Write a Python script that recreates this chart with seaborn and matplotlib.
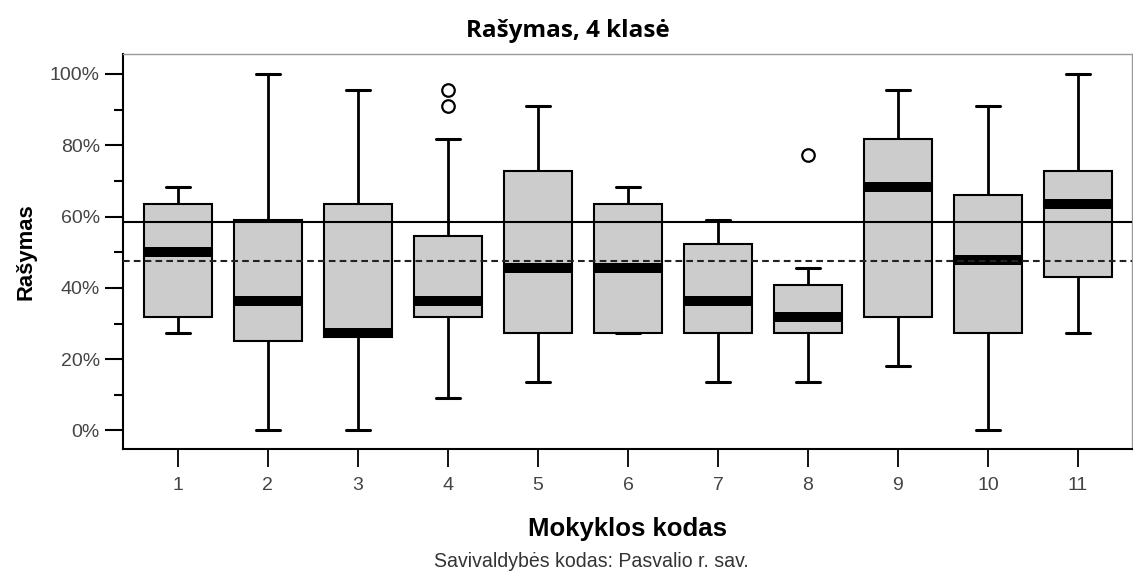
import numpy as np
import pandas as pd
import matplotlib
matplotlib.use("Agg")
import matplotlib.pyplot as plt
import seaborn as sns
from matplotlib.ticker import PercentFormatter, MultipleLocator

# ---- data (percent) ----
schools = ["1", "2", "3", "4", "5", "6", "7", "8", "9", "10", "11"]
whisker_low = [27.27, 0.0, 0.0, 9.09, 13.64, 27.27, 13.64, 13.64, 18.18, 0.0, 27.27]
q1 = [31.82, 25.0, 26.1, 31.82, 27.27, 27.27, 27.27, 27.27, 31.82, 27.27, 43.18]
median = [50.0, 36.36, 27.27, 36.36, 45.45, 45.45, 36.36, 31.82, 68.18, 47.73, 63.64]
q3 = [63.64, 59.09, 63.64, 54.55, 72.73, 63.64, 52.27, 40.91, 81.82, 65.91, 72.73]
whisker_high = [68.18, 100.0, 95.45, 81.82, 90.91, 68.18, 59.09, 45.45, 95.45, 90.91, 100.0]
outlier_school = ["4", "4", "8"]
outlier_value = [95.45, 90.91, 77.27]
solid_ref = 58.6
dashed_ref = 47.4

title = "Rašymas, 4 klasė"
xlabel = "Mokyklos kodas"
ylabel = "Rašymas"
footer = "Savivaldybės kodas: Pasvalio r. sav."

# ---- style ----
sns.set_style("white")
plt.rcParams["font.family"] = ["Liberation Sans", "DejaVu Sans"]

W, H = 1133, 571
fig = plt.figure(figsize=(W / 100, H / 100), dpi=100)
ax = fig.add_axes([123 / W, 1 - 449 / H, (1132 - 123) / W, (449 - 54) / H])

# five-number summaries as a long table (quartiles reproduce exactly with 5 points)
df = pd.DataFrame({
    "school": np.repeat(schools, 5),
    "value": np.column_stack([whisker_low, q1, median, q3, whisker_high]).ravel(),
})

sns.boxplot(
    data=df, x="school", y="value", order=schools, whis=np.inf,
    width=0.76, color="#cccccc", saturation=1, linecolor="black",
    linewidth=1.5, showfliers=False,
    medianprops=dict(linewidth=7.2, color="black", solid_capstyle="butt"),
    whiskerprops=dict(linewidth=2.0, color="black"),
    capprops=dict(linewidth=2.2, color="black"),
    ax=ax,
)
for cont in ax.containers:
    for cap in getattr(cont, "caps", []):
        xd = np.asarray(cap.get_xdata(), dtype=float)
        c = xd.mean()
        cap.set_xdata([c - 0.13, c + 0.13])

sns.stripplot(
    x=outlier_school, y=outlier_value, order=schools, jitter=False,
    color="white", edgecolor="black", linewidth=1.6, size=9, ax=ax, zorder=6,
)

ax.axhline(solid_ref, color="black", lw=1.5, zorder=7)
ax.axhline(dashed_ref, color="#222222", lw=1.5, ls=(0, (3.2, 2.0)), zorder=7)

ax.set_ylim(-5.2, 105.6)
ax.set_xlim(-0.61, 10.6)
ax.yaxis.set_major_locator(MultipleLocator(20))
ax.yaxis.set_minor_locator(MultipleLocator(10))
ax.yaxis.set_major_formatter(PercentFormatter(decimals=0))

ax.tick_params(axis="y", which="major", length=13, width=1.5, color="black",
               labelsize=14, labelcolor="#444444", pad=3.6, left=True)
ax.tick_params(axis="y", which="minor", length=6.5, width=1.5, color="black", left=True)
ax.tick_params(axis="x", which="major", length=13, width=1.3, color="black",
               labelsize=14, labelcolor="#444444", pad=7, bottom=True)

ax.set_xlabel("")
ax.set_ylabel("")

for s in ["left", "bottom"]:
    ax.spines[s].set_color("black")
    ax.spines[s].set_linewidth(1.5)
for s in ["top", "right"]:
    ax.spines[s].set_color("#999999")
    ax.spines[s].set_linewidth(1.0)

t_title = fig.text(567.5 / W, 1 - 37 / H, title, ha="center", va="baseline",
                   fontsize=15, fontweight="bold", color="black",
                   family=["Open Sans", "DejaVu Sans"])
t_x = fig.text(627.5 / W, 1 - 536 / H, xlabel, ha="center", va="baseline",
               fontsize=18, fontweight="bold", color="black")
t_y = fig.text(26 / W, 1 - 251.5 / H, ylabel, ha="center", va="center",
               rotation=90, fontsize=16, fontweight="bold", color="black")
t_f = fig.text(591.5 / W, 1 - 567 / H, footer, ha="center", va="baseline",
               fontsize=14, color="#333333")

# fit text sizes to the measured extents of the reference
fig.canvas.draw()
r = fig.canvas.get_renderer()
for t, target, dim in [(t_title, 205, "w"), (t_x, 199, "w"), (t_y, 97, "h"), (t_f, 313, "w")]:
    for _ in range(3):
        bb = t.get_window_extent(r)
        cur = bb.width if dim == "w" else bb.height
        t.set_fontsize(t.get_fontsize() * target / cur)

fig.savefig("out.png", dpi=100)
